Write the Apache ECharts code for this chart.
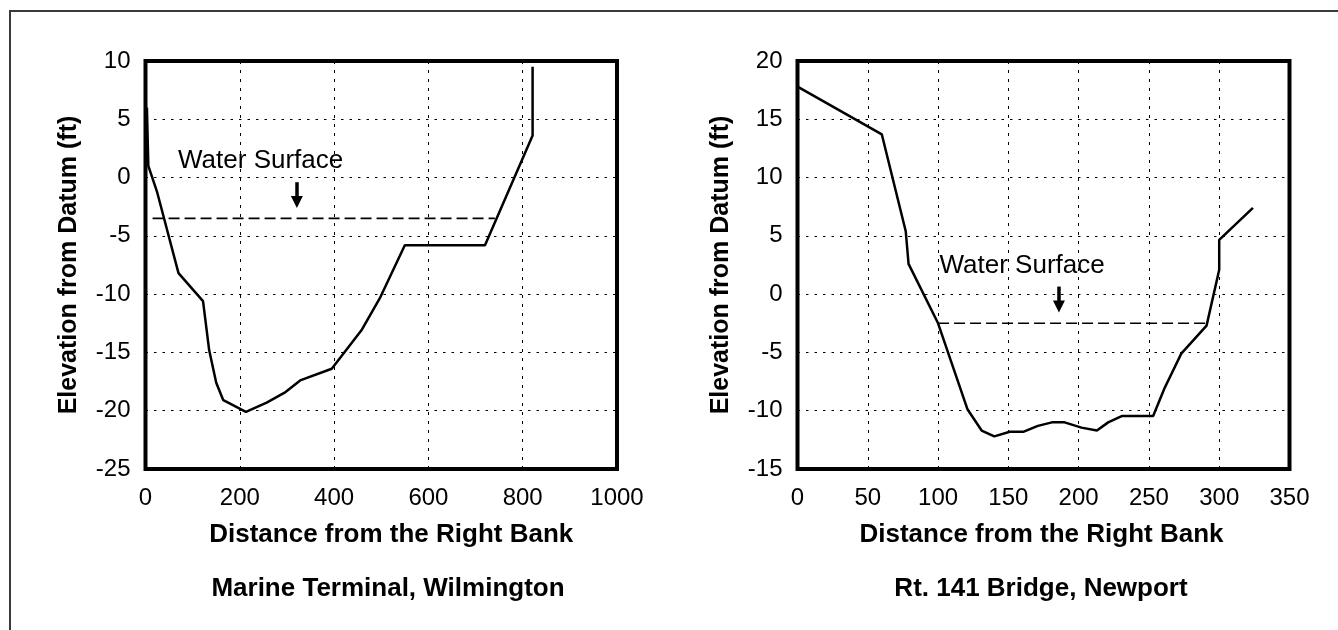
<!DOCTYPE html>
<html>
<head>
<meta charset="utf-8">
<script src="https://cdn.jsdelivr.net/npm/echarts@6/dist/echarts.min.js"></script>
<style>
  html, body { margin: 0; padding: 0; background: #fff; }
  #chart { width: 1338px; height: 630px; }
</style>
</head>
<body>
<div id="chart"></div>
<script>
// Marine Terminal, Wilmington
const leftDist = [3, 6, 25, 70, 122, 135, 150, 165, 213, 257, 297, 328, 395, 458, 497, 550, 720, 821, 821];
const leftElev = [6, 1, -1.3, -8.2, -10.6, -14.8, -17.6, -19.1, -20.1, -19.3, -18.4, -17.4, -16.4, -13.1, -10.35, -5.8, -5.8, 3.6, 9.5];
const leftWaterX = [15, 741];
const leftWaterY = [-3.5, -3.5];
const leftArrowX = 321;
const leftArrowY = [-0.4, -2.1];
const leftLabelAt = [69, 1.45];

// Rt. 141 Bridge, Newport
const rightDist = [0, 60, 77, 79, 100, 121, 131, 140, 151, 161, 171, 181, 190, 202, 213, 221, 231, 253, 261, 273, 291, 300, 300, 324];
const rightElev = [17.8, 13.7, 5.4, 2.6, -2.5, -9.9, -11.7, -12.2, -11.8, -11.8, -11.3, -11.0, -11.0, -11.45, -11.7, -11.0, -10.45, -10.45, -8.1, -5.1, -2.7, 2.1, 4.65, 7.4];
const rightWaterX = [100, 290];
const rightWaterY = [-2.5, -2.5];
const rightArrowX = 186;
const rightArrowY = [0.65, -1.05];
const rightLabelAt = [101, 2.45];

const xTitle = 'Distance from the Right Bank';
const yTitle = 'Elevation from Datum (ft)';
const subTitles = ['Marine Terminal, Wilmington', 'Rt. 141 Bridge, Newport'];
const waterText = 'Water Surface';

const FONT = '"Liberation Sans", Arial, Helvetica, sans-serif';

const zip = (xs, ys) => xs.map((x, i) => [x, ys[i]]);

function xAxisOf(idx, max, step, shift) {
  return {
    gridIndex: idx, type: 'value', min: 0, max: max, interval: step,
    axisLine: { show: false }, axisTick: { show: false },
    axisLabel: { color: '#000', fontSize: 24, fontFamily: FONT, margin: 17, formatter: v => String(v) },
    splitLine: { show: true, lineStyle: { color: '#000', width: 1, type: [3, 6] } },
    name: xTitle, nameLocation: 'middle', nameGap: 53,
    nameTextStyle: {
      color: '#000', fontSize: 26, fontWeight: 'bold', fontFamily: FONT,
      padding: shift > 0 ? [0, 0, 0, shift] : [0, -shift, 0, 0]
    }
  };
}

function yAxisOf(idx, min, max) {
  return {
    gridIndex: idx, type: 'value', min: min, max: max, interval: 5,
    axisLine: { show: false }, axisTick: { show: false },
    axisLabel: { color: '#000', fontSize: 24, fontFamily: FONT, margin: 15 },
    splitLine: { show: true, lineStyle: { color: '#000', width: 1, type: [2.5, 6] } },
    name: yTitle, nameLocation: 'middle', nameGap: 64,
    nameTextStyle: { color: '#000', fontSize: 25, fontWeight: 'bold', fontFamily: FONT }
  };
}

function sectionSeries(idx, dist, elev, wx, wy, ax, ay, lab) {
  return [
    {
      type: 'line', xAxisIndex: idx, yAxisIndex: idx,
      data: zip(dist, elev), symbol: 'none',
      lineStyle: { color: '#000', width: 2.5 }
    },
    {
      type: 'line', xAxisIndex: idx, yAxisIndex: idx,
      data: zip(wx, wy), symbol: 'none',
      lineStyle: { color: '#000', width: 1.6, type: [11, 5] },
      markLine: {
        silent: true, symbol: ['none', 'triangle'], symbolSize: [12, 12],
        label: { show: false },
        lineStyle: { color: '#000', width: 3.5, type: 'solid' },
        data: [[{ coord: [ax, ay[0]] }, { coord: [ax, ay[1]] }]]
      }
    },
    {
      type: 'scatter', xAxisIndex: idx, yAxisIndex: idx,
      data: [lab], symbol: 'circle', symbolSize: 0, itemStyle: { color: '#000', opacity: 1 },
      label: {
        show: true, position: 'right', distance: 0, formatter: waterText,
        color: '#000', opacity: 1, fontSize: 26, fontFamily: FONT, textBorderWidth: 0
      }
    }
  ];
}

const chart = echarts.init(document.getElementById('chart'), null, { renderer: 'canvas' });
chart.setOption({
  animation: false,
  backgroundColor: '#fff',
  grid: [
    { left: 145.5, top: 61, width: 471.5, height: 408, show: true, borderColor: '#000', borderWidth: 4 },
    { left: 797.5, top: 61, width: 492, height: 408, show: true, borderColor: '#000', borderWidth: 4 }
  ],
  xAxis: [xAxisOf(0, 1000, 200, 20), xAxisOf(1, 350, 50, -4)],
  yAxis: [yAxisOf(0, -25, 10), yAxisOf(1, -15, 20)],
  series: [].concat(
    sectionSeries(0, leftDist, leftElev, leftWaterX, leftWaterY, leftArrowX, leftArrowY, leftLabelAt),
    sectionSeries(1, rightDist, rightElev, rightWaterX, rightWaterY, rightArrowX, rightArrowY, rightLabelAt)
  ),
  graphic: [
    {
      type: 'rect', silent: true,
      shape: { x: 10, y: 11, width: 1500, height: 800 },
      style: { fill: 'none', stroke: '#3a3a3a', lineWidth: 2 }
    },
    {
      type: 'text', x: 388, y: 589, silent: true,
      style: { text: subTitles[0], fill: '#000', font: 'bold 26px ' + FONT, textAlign: 'center', textVerticalAlign: 'middle' }
    },
    {
      type: 'text', x: 1041, y: 589, silent: true,
      style: { text: subTitles[1], fill: '#000', font: 'bold 26px ' + FONT, textAlign: 'center', textVerticalAlign: 'middle' }
    }
  ]
});
</script>
</body>
</html>
